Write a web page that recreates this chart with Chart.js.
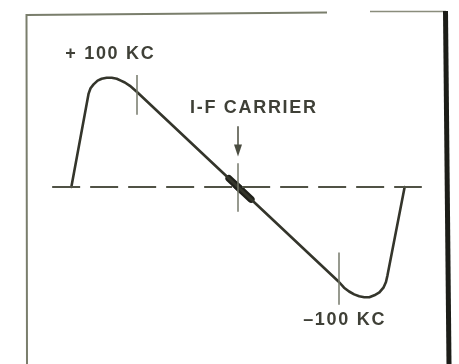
<!DOCTYPE html>
<html>
<head>
<meta charset="utf-8">
<script src="https://cdn.jsdelivr.net/npm/chart.js@4/dist/chart.umd.min.js"></script>
<style>
  html, body { margin: 0; padding: 0; background: #fff; }
  #wrap { width: 459px; height: 364px; position: relative; }
</style>
</head>
<body>
<div id="wrap"><canvas id="scurve"></canvas></div>
<script>
// discriminator response, frequency off the i-f carrier (kc) vs output
var freqKc = [165, 149, 148, 146, 143, 139, 135, 130, 125, 120, 116, 112, 107, 100,
              0,
              -100, -105, -110, -115, -120, -125, -130, -135, -140, -144, -146.5, -148, -165];
var output = [0, 0.92, 0.98, 1.04, 1.08, 1.12, 1.14, 1.15, 1.15, 1.14, 1.12, 1.10, 1.065, 1.0,
              0,
              -1.0, -1.06, -1.10, -1.13, -1.15, -1.16, -1.16, -1.14, -1.11, -1.06, -1.0, -0.93, 0];

// zero line
var baseKc = [184, -182];

// marker strokes at +100, carrier, -100
var markKc = [100, 0, -100];
var markTop = [1.18, 0.25, -0.69];
var markBottom = [0.76, -0.26, -1.24];

// heavy spots where the curve crosses the carrier
var spotKc = [[9, -3], [2, -13]];

// arrow over the carrier
var arrowKc = 0;
var arrowFrom = 0.64;
var arrowTip = 0.32;

var labelText = ['+ 100 KC', 'I-F CARRIER', '\u2013100 KC'];
var labelKc = [171, 47.5, -64.5];
var labelOut = [1.40, 0.83, -1.40];

var ink = '#34352b';
var pale = '#75786a';

function pts(xs, ys) {
  return xs.map(function (x, i) { return { x: x, y: ys[i] }; });
}

var datasets = [];

datasets.push({
  data: pts(baseKc, [0, 0]),
  borderColor: '#505245',
  borderWidth: 2,
  borderDash: [28, 10],
  borderDashOffset: 0
});

markKc.forEach(function (f, i) {
  datasets.push({
    data: [{ x: f, y: markTop[i] }, { x: f, y: markBottom[i] }],
    borderColor: pale,
    borderWidth: 1.5
  });
});

datasets.push({
  data: [{ x: arrowKc, y: arrowFrom }, { x: arrowKc, y: arrowTip + 0.08 }],
  borderColor: '#55574a',
  borderWidth: 1.6
});

datasets.push({
  data: pts(freqKc, output),
  borderColor: ink,
  borderWidth: 2.6,
  borderJoinStyle: 'round',
  borderCapStyle: 'round'
});

spotKc.forEach(function (s) {
  datasets.push({
    data: pts(s, s.map(function (f) { return f / 100; })),
    borderColor: '#1f201a',
    borderWidth: 7,
    borderCapStyle: 'round'
  });
});

datasets.forEach(function (d) {
  d.showLine = true;
  d.pointRadius = 0;
  d.tension = 0;
  d.fill = false;
});

// page frame, arrow head and lettering
var decor = {
  id: 'decor',
  beforeDraw: function (chart) {
    var c = chart.ctx;
    c.save();
    c.fillStyle = '#fff';
    c.fillRect(0, 0, chart.width, chart.height);
    c.lineCap = 'butt';
    c.strokeStyle = '#7a7e6c';
    c.lineWidth = 2;
    c.beginPath();
    c.moveTo(27, 364);
    c.lineTo(26.5, 15);
    c.lineTo(327, 12.5);
    c.stroke();
    c.strokeStyle = '#8a8d7c';
    c.lineWidth = 1.6;
    c.beginPath();
    c.moveTo(370, 11.5);
    c.lineTo(446, 11.5);
    c.stroke();
    c.strokeStyle = '#1c1d18';
    c.lineWidth = 5;
    c.beginPath();
    c.moveTo(445.5, 11);
    c.lineTo(449, 364);
    c.stroke();
    c.restore();
  },
  afterDatasetsDraw: function (chart) {
    var c = chart.ctx;
    var xs = chart.scales.x, ys = chart.scales.y;
    c.save();
    var ax = xs.getPixelForValue(arrowKc);
    var at = ys.getPixelForValue(arrowTip);
    c.fillStyle = '#4a4c40';
    c.beginPath();
    c.moveTo(ax, at);
    c.lineTo(ax - 4, at - 12);
    c.lineTo(ax + 4, at - 12);
    c.closePath();
    c.fill();

    c.fillStyle = '#3f4037';
    c.font = 'bold 18px "Liberation Sans", Arial, sans-serif';
    c.letterSpacing = '1.7px';
    c.textAlign = 'left';
    c.textBaseline = 'middle';
    labelText.forEach(function (t, i) {
      c.fillText(t, xs.getPixelForValue(labelKc[i]), ys.getPixelForValue(labelOut[i]));
    });
    c.restore();
  }
};

new Chart(document.getElementById('scurve'), {
  type: 'scatter',
  data: { datasets: datasets },
  options: {
    responsive: true,
    maintainAspectRatio: false,
    animation: false,
    layout: { padding: { left: 36, right: 19, top: 6.5, bottom: 15.5 } },
    plugins: { legend: { display: false }, tooltip: { enabled: false } },
    scales: {
      x: { type: 'linear', reverse: true, min: -200, max: 200, display: false },
      y: { type: 'linear', min: -1.7, max: 1.9, display: false }
    }
  },
  plugins: [decor]
});
</script>
</body>
</html>
